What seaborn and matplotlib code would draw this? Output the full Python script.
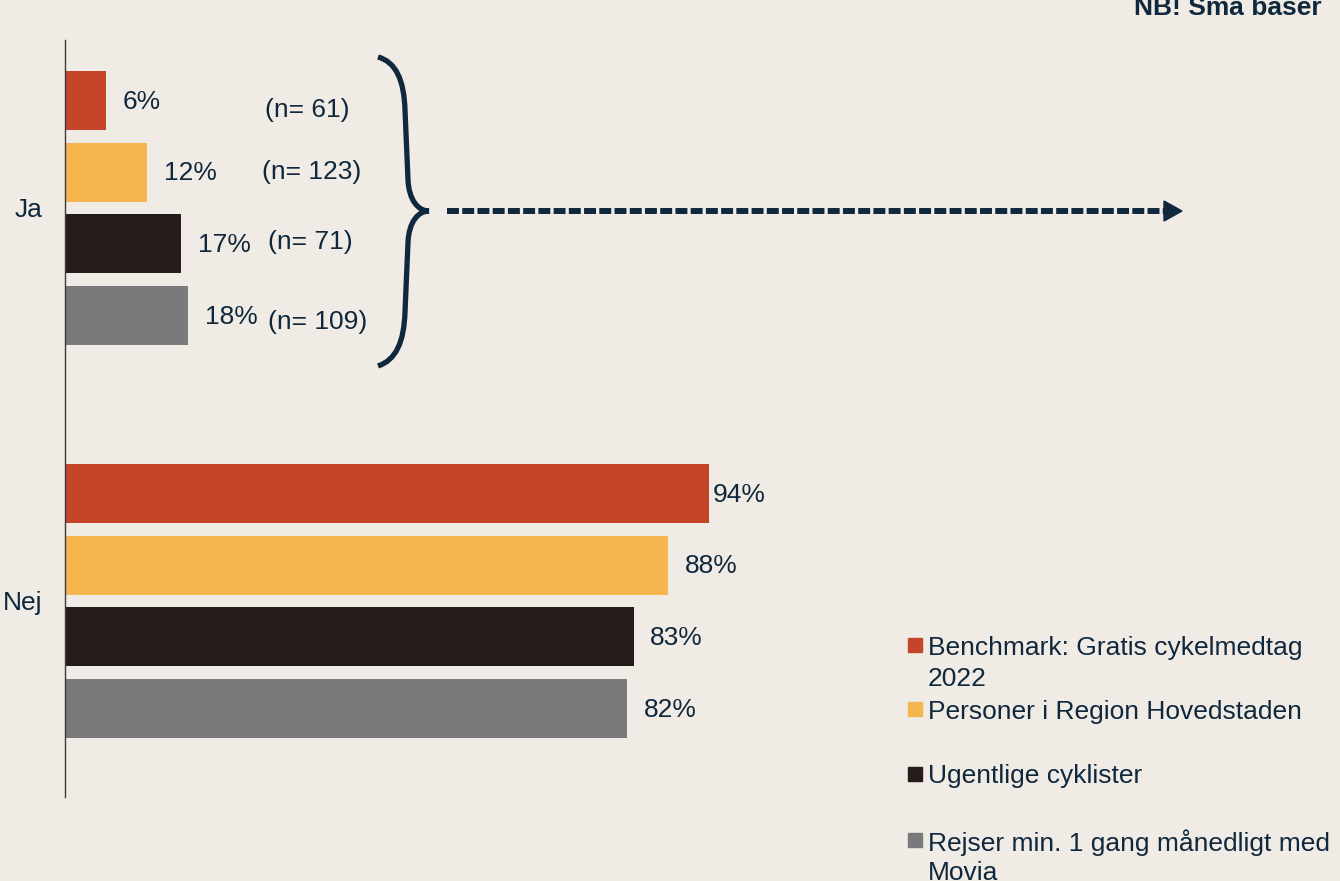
import numpy as np
import pandas as pd
import matplotlib
matplotlib.use('Agg')
import matplotlib.pyplot as plt
import seaborn as sns
from matplotlib.path import Path
from matplotlib.patches import PathPatch, Polygon, Rectangle
from matplotlib.lines import Line2D

# -----------------
# data
# -----------------
answers = ['Ja', 'Nej']
series = ['Benchmark: Gratis cykelmedtag\n2022',
          'Personer i Region Hovedstaden',
          'Ugentlige cyklister',
          'Rejser min. 1 gang månedligt med\nMovia']
ja_values = [6, 12, 17, 18]
nej_values = [94, 88, 83, 82]
ja_bases = [61, 123, 71, 109]
colors = ['#c5452b', '#f5b54f', '#261c1b', '#7a7a7a']

BG = '#f0ebe4'
NAVY = '#10283d'
W, H = 1340, 881
FS = 19

df = pd.DataFrame({
    'svar': np.repeat(answers, len(series)),
    'gruppe': series * len(answers),
    'andel': ja_values + nej_values,
})

sns.set_style('white', {'axes.facecolor': BG, 'figure.facecolor': BG})
plt.rcParams['font.family'] = ['Liberation Sans', 'DejaVu Sans']


def fx(x):
    return x / W


def fy(y):
    return 1 - y / H


fig = plt.figure(figsize=(W / 100, H / 100), dpi=100)
ax = fig.add_axes([fx(65), 84 / H, 1275 / W, 757 / H])

sns.barplot(data=df, x='andel', y='svar', hue='gruppe', hue_order=series,
            palette=colors, orient='h', width=0.728, gap=0.175,
            saturation=1, errorbar=None, legend=False, linewidth=0, ax=ax)

ax.set_xlim(0, 186.1)
ax.set_ylim(1.499, -0.427)
ax.set_xlabel('')
ax.set_ylabel('')
ax.set_xticks([])
for s in ['top', 'right', 'bottom']:
    ax.spines[s].set_visible(False)
ax.spines['left'].set_color('#3a3a3a')
ax.spines['left'].set_linewidth(1)
ax.tick_params(axis='y', length=0, pad=16, labelsize=FS, labelcolor=NAVY)

# procent-labels
longest = max(ja_values + nej_values)
for cont in ax.containers:
    for bar in cont:
        v = bar.get_width()
        yc = bar.get_y() + bar.get_height() / 2
        pad = 3 if v == longest else 12
        ax.annotate(f'{v:.0f}%', (v, yc), xytext=(pad, -1), textcoords='offset points',
                    va='center', ha='left', fontsize=FS, color=NAVY)

# n-baser for Ja
n_dx = [1, -1, 3, 3]
n_dy = [-7, 0, 1, -5]
for cont, n, dx, dy in zip(ax.containers, ja_bases, n_dx, n_dy):
    bar = cont[0]
    yc = bar.get_y() + bar.get_height() / 2
    ax.annotate(f'(n= {n})', (29.0, yc), xytext=(dx, dy), textcoords='offset points',
                va='center', ha='left', fontsize=FS, color=NAVY)

# krøllet parentes
verts = [(378, 57), (396, 62), (404, 80), (405, 110),
         (408, 180),
         (409, 200), (418, 211), (429, 211),
         (418, 211), (409, 222), (408, 242),
         (405, 312),
         (404, 342), (396, 360), (378, 366)]
codes = [Path.MOVETO, Path.CURVE4, Path.CURVE4, Path.CURVE4,
         Path.LINETO,
         Path.CURVE4, Path.CURVE4, Path.CURVE4,
         Path.CURVE4, Path.CURVE4, Path.CURVE4,
         Path.LINETO,
         Path.CURVE4, Path.CURVE4, Path.CURVE4]
brace = PathPatch(Path([(fx(x), fy(y)) for x, y in verts], codes),
                  transform=fig.transFigure, fill=False, edgecolor=NAVY,
                  linewidth=3.8, capstyle='butt')
fig.add_artist(brace)

# stiplet pil
fig.add_artist(Line2D([fx(447), fx(1165)], [fy(211), fy(211)], transform=fig.transFigure,
                      color=NAVY, linewidth=4.3, linestyle=(0, (2.0, 0.55))))
fig.add_artist(Polygon([(fx(1164), fy(201)), (fx(1182), fy(211)), (fx(1164), fy(221))],
                       closed=True, transform=fig.transFigure, color=NAVY))

# forklaring (hver linje for sig, 31 px mellem linjer)
legend_y = [645, 709, 774, 840]
for lab, c, y in zip(series, colors, legend_y):
    fig.add_artist(Rectangle((fx(908), fy(y + 7)), 14 / W, 14 / H,
                             transform=fig.transFigure, color=c))
    for i, line in enumerate(lab.split('\n')):
        fig.text(fx(928), fy(y + 31 * i), line, ha='left', va='center_baseline',
                 fontsize=FS, color=NAVY)

fig.text(fx(1322), fy(15), 'NB! Små baser', ha='right', va='baseline',
         fontsize=FS, weight='bold', color=NAVY)

fig.savefig('out.png', dpi=100, facecolor=BG)
